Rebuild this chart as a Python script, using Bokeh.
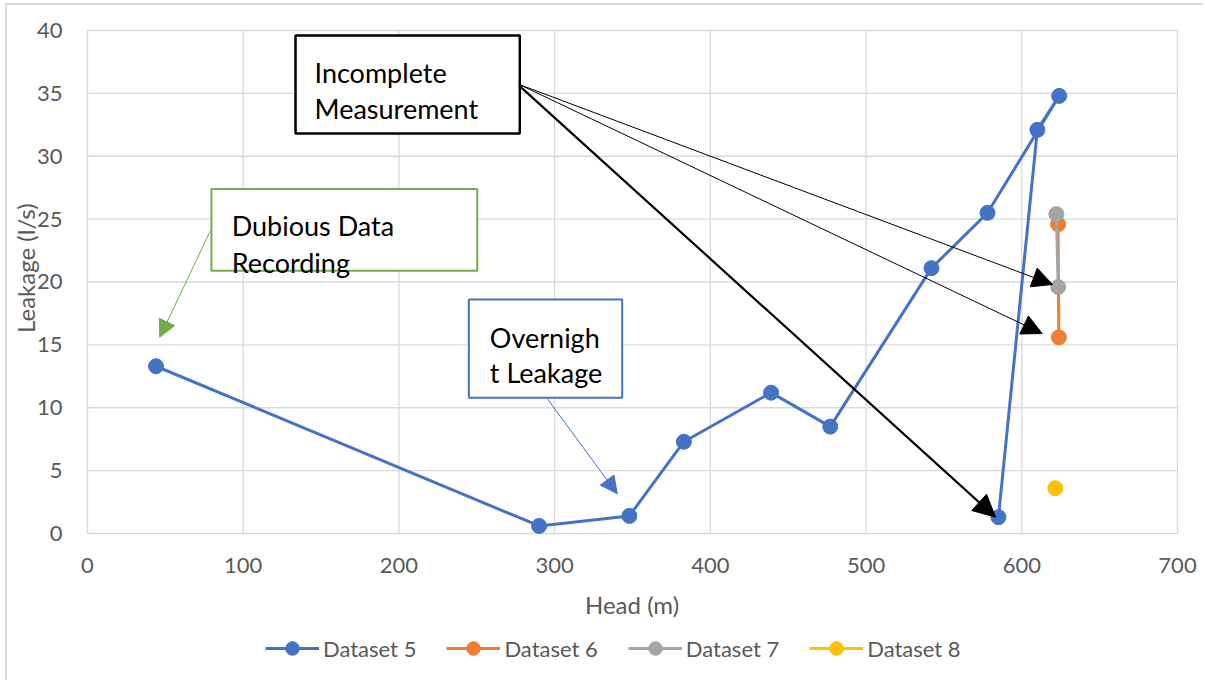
import math
from bokeh.plotting import figure
from bokeh.models import Range1d, Legend, LegendItem, Arrow, NormalHead
from bokeh.core.properties import value
from bokeh.embed import file_html
from bokeh.resources import INLINE

# --- series ---------------------------------------------------------------
head_5 = [44, 290, 348, 383, 439, 477, 542, 578, 624, 610, 585]
leak_5 = [13.3, 0.6, 1.4, 7.3, 11.2, 8.5, 21.1, 25.5, 34.8, 32.1, 1.3]

head_6 = [623.3, 623.8]
leak_6 = [24.6, 15.6]

head_7 = [622.2, 623.4]
leak_7 = [25.4, 19.6]

head_8 = [621.5]
leak_8 = [3.6]

series_names = ["Dataset 5", "Dataset 6", "Dataset 7", "Dataset 8"]
series_colors = ["#4472C4", "#ED7D31", "#A5A5A5", "#FFC000"]

x_ticks = [0, 100, 200, 300, 400, 500, 600, 700]
y_ticks = [0, 5, 10, 15, 20, 25, 30, 35, 40]
x_tick_labels = [str(t) for t in x_ticks]
y_tick_labels = [str(t) for t in y_ticks]
x_title = "Head (m)"
y_title = "Leakage (l/s)"

# --- callout notes (text boxes + pointers) --------------------------------
note_texts = [["Incomplete", "Measurement"], ["Dubious Data", "Recording"], ["Overnigh", "t Leakage"]]
note_colors = ["#000000", "#70AD47", "#4472C4"]

FONT = "Lato"
GREY_TEXT = "#595959"
GRID = "#D9D9D9"

X_MIN, X_MAX = 0, 700
Y_MIN, Y_MAX = 0, 40

# The plotting area spans the whole canvas, so axis texts and the legend sit
# inside it; the value grid itself covers 0-700 by 0-40.
p = figure(width=1198, height=677, output_backend="svg", toolbar_location=None,
           x_range=Range1d(-51.376, 717.98), y_range=Range1d(-11.849, 41.988),
           x_axis_location=None, y_axis_location=None,
           min_border_left=0, min_border_right=0, min_border_top=0, min_border_bottom=0)
p.styles = {"margin-left": "5px", "margin-top": "3px",
            "border-left": "2px solid #D9D9D9", "border-top": "2px solid #D9D9D9"}
p.outline_line_color = None
p.background_fill_color = "white"
p.border_fill_color = "white"
p.grid.visible = False

# gridlines
p.segment(x0=x_ticks, y0=[Y_MIN] * len(x_ticks), x1=x_ticks, y1=[Y_MAX] * len(x_ticks),
          line_color=GRID, line_width=1.3)
p.segment(x0=[X_MIN] * len(y_ticks), y0=y_ticks, x1=[X_MAX] * len(y_ticks), y1=y_ticks,
          line_color=GRID, line_width=1.3)

# tick labels and axis titles
p.text(x=x_ticks, y=[-2.55] * len(x_ticks), text=x_tick_labels, text_font=value(FONT),
       text_font_size="22px", text_color=GREY_TEXT, text_align="center", text_baseline="middle")
p.text(x=[-16.0] * len(y_ticks), y=y_ticks, text=y_tick_labels, text_font=value(FONT),
       text_font_size="22px", text_color=GREY_TEXT, text_align="right", text_baseline="middle")
p.text(x=[349.7], y=[-5.65], text=[x_title], text_font=value(FONT), text_font_size="24px",
       text_color=GREY_TEXT, text_align="center", text_baseline="middle")
p.text(x=[-39.5], y=[21.1], text=[y_title], text_font=value(FONT), text_font_size="24px",
       text_color=GREY_TEXT, text_align="center", text_baseline="middle", angle=math.pi / 2)

# --- callout boxes ---------------------------------------------------------
box_left = [133.6, 79.6, 244.9]
box_right = [277.6, 250.3, 343.4]
box_top = [39.6, 27.4, 18.6]
box_bottom = [31.8, 20.9, 10.8]
box_widths = [2.5, 2, 2]
for i in range(3):
    p.quad(left=[box_left[i]], right=[box_right[i]], top=[box_top[i]], bottom=[box_bottom[i]],
           fill_color="white", line_color=note_colors[i], line_width=box_widths[i])

text_x = [145.8, 92.6, 258.4]
text_y1 = [36.68, 24.5, 15.61]
text_y2 = [33.8, 21.57, 12.78]
for i in range(3):
    p.text(x=[text_x[i], text_x[i]], y=[text_y1[i], text_y2[i]], text=note_texts[i],
           text_font=value(FONT), text_font_size="27px", text_color="black",
           text_baseline="alphabetic", text_align="left")

# --- series ---------------------------------------------------------------
all_x = [head_5, head_6, head_7, head_8]
all_y = [leak_5, leak_6, leak_7, leak_8]
items = []
for xs, ys, name, col in zip(all_x, all_y, series_names, series_colors):
    ln = p.line(xs, ys, line_color=col, line_width=3)
    sc = p.scatter(xs, ys, marker="circle", size=15, fill_color=col, line_color=col)
    items.append(LegendItem(label=name, renderers=[ln, sc]))

# --- pointers ---------------------------------------------------------------
arrow_start_x = [277.4, 277.4, 277.4, 79.0, 294.8]
arrow_start_y = [35.7, 35.7, 35.6, 24.1, 10.8]
arrow_end_x = [619.7, 613.1, 583.1, 46.4, 340.2]
arrow_end_y = [19.8, 15.9, 1.3, 15.6, 3.16]
arrow_colors = ["#000000", "#000000", "#000000", "#70AD47", "#4472C4"]
arrow_widths = [1, 1, 2.2, 1, 1]
arrow_heads = [20, 20, 22, 17, 17]
for i in range(5):
    p.add_layout(Arrow(x_start=arrow_start_x[i], y_start=arrow_start_y[i],
                       x_end=arrow_end_x[i], y_end=arrow_end_y[i],
                       line_color=arrow_colors[i], line_width=arrow_widths[i],
                       end=NormalHead(size=arrow_heads[i], fill_color=arrow_colors[i],
                                      line_color=arrow_colors[i], line_width=1)))

legend = Legend(items=items, orientation="horizontal", location=(258, 17),
                padding=0, margin=0, spacing=30, glyph_width=54, glyph_height=34,
                label_standoff=4, label_height=34,
                label_text_font=FONT, label_text_font_size="22px", label_text_color=GREY_TEXT,
                border_line_color=None, background_fill_alpha=0)
p.add_layout(legend)

open("out.html", "w").write(file_html(p, INLINE))
